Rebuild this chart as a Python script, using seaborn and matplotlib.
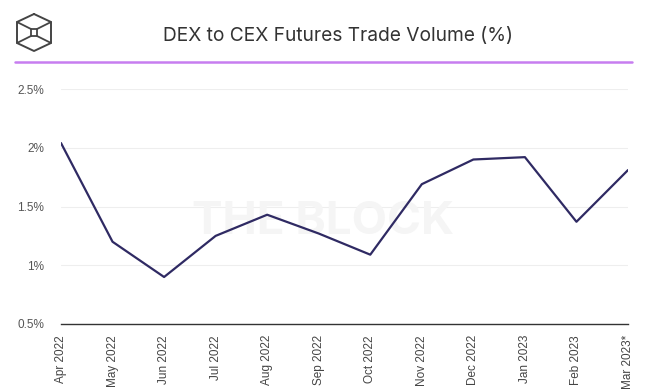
#!/usr/bin/env python3

import matplotlib
matplotlib.use("Agg")
import matplotlib.pyplot as plt
from matplotlib.lines import Line2D
from matplotlib.patches import Rectangle
import pandas as pd
import seaborn as sns

months = ["Apr 2022", "May 2022", "Jun 2022", "Jul 2022", "Aug 2022", "Sep 2022",
          "Oct 2022", "Nov 2022", "Dec 2022", "Jan 2023", "Feb 2023", "Mar 2023*"]
dex_to_cex_pct = [2.04, 1.20, 0.90, 1.25, 1.43, 1.27, 1.09, 1.69, 1.90, 1.92, 1.37, 1.81]
y_ticks = [0.5, 1.0, 1.5, 2.0, 2.5]
y_tick_labels = ["0.5%", "1%", "1.5%", "2%", "2.5%"]

W, H = 654, 391

sns.set_theme(style="white")
plt.rcParams["font.family"] = ["Liberation Sans", "DejaVu Sans"]

df = pd.DataFrame({"month": months, "pct": dex_to_cex_pct})
df["pos"] = range(len(df))

fig = plt.figure(figsize=(W / 100, H / 100), dpi=100)
ax = fig.add_axes([61 / W, 1 - 324 / H, (628 - 61) / W, (324 - 89) / H])

# watermark, behind the line
ax.text(323 / W, 1 - 222 / H, "THE BLOCK", transform=fig.transFigure, ha="center", va="center",
        family=["Inter", "DejaVu Sans"], fontsize=33, fontweight="bold", color="#f5f5f5", zorder=1)

sns.lineplot(data=df, x="pos", y="pct", color="#2f2a63", linewidth=1.6, ax=ax, zorder=3)

ax.set_xlim(0, len(months) - 1)
ax.set_ylim(0.5, 2.5)
ax.set_xticks(df["pos"])
ax.set_xticklabels(months, rotation=90, fontsize=8.5, color="#444444")
ax.set_yticks(y_ticks)
ax.set_yticklabels(y_tick_labels, fontsize=8.5, color="#555555")
ax.set_xlabel("")
ax.set_ylabel("")
ax.tick_params(axis="x", length=0, pad=8)
ax.tick_params(axis="y", length=0, pad=12)
ax.grid(axis="y", color="#eeeeee", linewidth=0.8, zorder=0)
ax.set_axisbelow(True)
for side in ["top", "right", "left"]:
    ax.spines[side].set_visible(False)
ax.spines["bottom"].set_color("#333333")
ax.spines["bottom"].set_linewidth(1.0)
ax.spines["bottom"].set_zorder(4)

# title and header rule
fig.text(338 / W, 1 - 36 / H, "DEX to CEX Futures Trade Volume (%)", ha="center", va="center",
         family=["Inter", "DejaVu Sans"], fontsize=13.8, color="#333333")
fig.add_artist(Line2D([15 / W, 632 / W], [1 - 62 / H, 1 - 62 / H], color="#c77df0", linewidth=1.8))


# logo: hexagonal cube icon
def px(x, y):
    return x / W, 1 - y / H


hexagon = [(34, 14), (51, 22), (51, 43), (34, 51), (17, 43), (17, 22), (34, 14)]
xs, ys = zip(*[px(x, y) for x, y in hexagon])
fig.add_artist(Line2D(xs, ys, color="#444444", linewidth=1.4))
for seg in [[(17, 22), (31, 29)], [(51, 22), (37, 29)], [(17, 43), (31, 36)], [(51, 43), (37, 36)]]:
    sx, sy = zip(*[px(x, y) for x, y in seg])
    fig.add_artist(Line2D(sx, sy, color="#444444", linewidth=1.3))
fig.add_artist(Rectangle(px(31, 36), 6 / W, 7 / H, fill=False, edgecolor="#444444", linewidth=1.3))

fig.savefig("out.png", dpi=100, facecolor="white")
